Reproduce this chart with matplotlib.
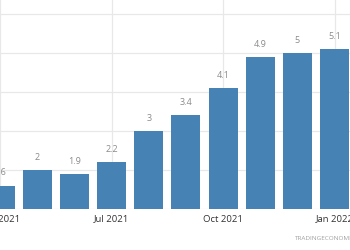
import matplotlib
matplotlib.use("Agg")
import matplotlib.pyplot as plt

months = ["Apr 2021", "May 2021", "Jun 2021", "Jul 2021", "Aug 2021",
          "Sep 2021", "Oct 2021", "Nov 2021", "Dec 2021", "Jan 2022"]
values = [1.6, 2.0, 1.9, 2.2, 3.0, 3.4, 4.1, 4.9, 5.0, 5.1]
value_labels = ["1.6", "2", "1.9", "2.2", "3", "3.4", "4.1", "4.9", "5", "5.1"]
tick_idx = [0, 3, 6, 9]
tick_labels = ["Apr 2021", "Jul 2021", "Oct 2021", "Jan 2022"]
y_grid = [1, 2, 3, 4, 5, 6]

plt.rcParams['font.family'] = ['Open Sans', 'DejaVu Sans']

fig = plt.figure(figsize=(3.5, 2.5), dpi=100)
ax = fig.add_axes([0, 0.164, 1, 0.836])

x = list(range(len(values)))
base = 1.0
ax.bar(x, [v - base for v in values], bottom=base, width=0.78,
       color="#4682b4", zorder=3)
for xi, v, lab in zip(x, values, value_labels):
    ax.annotate(lab, (xi, v), xytext=(0, 6), textcoords="offset points",
                ha="center", va="bottom", fontsize=6.5, color="#8a8a8a")

ax.set_xlim(0.08, 9.413)
ax.set_ylim(1, 6.36)
ax.set_yticks(y_grid)
ax.set_xticks(tick_idx)
ax.set_xticklabels(tick_labels, fontsize=6.8, color="#333333")
ax.tick_params(axis="x", length=0, pad=4)
ax.tick_params(axis="y", left=False, labelleft=False)
ax.grid(True, color="#e8e8e8", linewidth=0.9, zorder=0)
for s in ax.spines.values():
    s.set_visible(False)

fig.text(295 / 350, 1 - 239 / 250, "TRADINGECONOMICS.COM", fontsize=4.6,
         color="#a0a0a0", ha="left", va="center")

fig.savefig("out.png", dpi=100)
